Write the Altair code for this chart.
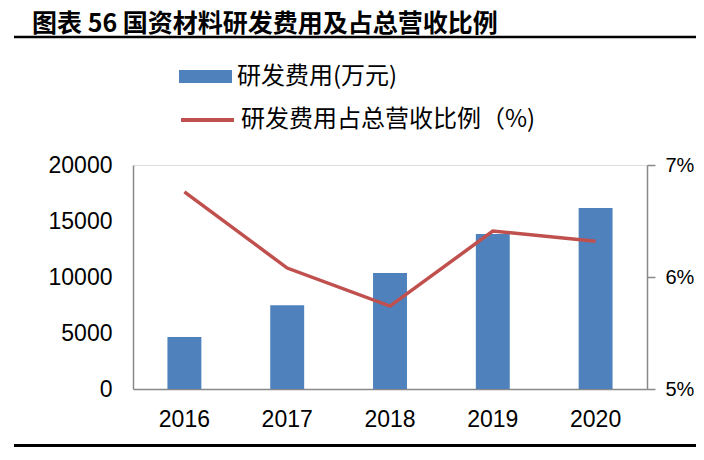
import altair as alt
import pandas as pd

# ---- data ----
years = ["2016", "2017", "2018", "2019", "2020"]
rd_expense = [4650, 7480, 10360, 13850, 16150]          # 研发费用（万元）
rd_ratio = [6.76, 6.08, 5.74, 6.41, 6.32]                # 占总营收比例（%）
left_ticks = [0, 5000, 10000, 15000, 20000]
right_ticks = [5, 6, 7]

bar_name = "研发费用(万元)"
line_name = "研发费用占总营收比例（%)"
title_text = "图表 56 国资材料研发费用及占总营收比例"

df = pd.DataFrame({
    "year": years,
    "rd": rd_expense,
    "ratio": rd_ratio,
    "bar_s": [bar_name] * len(years),
    "line_s": [line_name] * len(years),
})

BLUE = "#4F81BD"
RED = "#C0504D"
GRAY = "#898989"
NUM_FONT = "Liberation Sans"
CJK = "Noto Sans CJK SC"

x_enc = alt.X(
    "year:N", sort=years, title=None,
    scale=alt.Scale(paddingInner=0.67, paddingOuter=0.335),
    axis=alt.Axis(labelAngle=0, ticks=False, domainColor=GRAY, domainWidth=1.5,
                  labelFont=NUM_FONT, labelFontSize=23, labelColor="black",
                  labelPadding=19, grid=False),
)

bars = alt.Chart(df).mark_bar(color=BLUE).encode(
    x=x_enc,
    y=alt.Y(
        "rd:Q", title=None,
        scale=alt.Scale(domain=[0, 20000], nice=False),
        axis=alt.Axis(values=left_ticks, format="d", ticks=False, grid=False,
                      domainColor=GRAY, domainWidth=1.5,
                      labelFont=NUM_FONT, labelFontSize=23, labelColor="black",
                      labelPadding=21),
    ),
    color=alt.Color(
        "bar_s:N",
        scale=alt.Scale(domain=[bar_name], range=[BLUE]),
        legend=alt.Legend(title=None, orient="none", legendX=46, legendY=-115,
                          symbolType="M-1,-0.245H1V0.245H-1Z", symbolSize=2809,
                          symbolStrokeWidth=0, symbolOpacity=1,
                          labelFont=CJK, labelFontSize=24, labelColor="black",
                          labelOffset=5, labelLimit=600, padding=0),
    ),
)

line = alt.Chart(df).mark_line(strokeWidth=3.5).encode(
    x=alt.X("year:N", sort=years, title=None),
    y=alt.Y(
        "ratio:Q", title=None,
        scale=alt.Scale(domain=[5, 7], nice=False),
        axis=alt.Axis(orient="right", values=right_ticks,
                      labelExpr="datum.value + '%'", grid=False,
                      tickSize=8, tickColor=GRAY, tickWidth=1.5,
                      domainColor=GRAY, domainWidth=1.5,
                      labelFont=NUM_FONT, labelFontSize=20, labelColor="black",
                      labelPadding=10),
    ),
    stroke=alt.Stroke(
        "line_s:N",
        scale=alt.Scale(domain=[line_name], range=[RED]),
        legend=alt.Legend(title=None, orient="none", legendX=46, legendY=-73.5,
                          symbolType="stroke", symbolSize=2809,
                          symbolStrokeWidth=4,
                          labelFont=CJK, labelFontSize=24, labelColor="black",
                          labelOffset=5, labelLimit=600, padding=0),
    ),
)

deco = pd.DataFrame({"k": [0]})
top_rule = alt.Chart(deco).mark_rule(color="black", strokeWidth=2.5).encode(
    x=alt.value(-119), x2=alt.value(563), y=alt.value(-128))
bottom_rule = alt.Chart(deco).mark_rule(color="black", strokeWidth=3).encode(
    x=alt.value(-119), x2=alt.value(563), y=alt.value(280.5))

chart = alt.layer(bars, line, top_rule, bottom_rule).resolve_scale(
    y="independent"
).properties(
    width=514,
    height=224,
    autosize=alt.AutoSizeParams(type="none"),
    padding={"left": 125, "top": 157, "right": 49, "bottom": 58},
    title=alt.TitleParams(
        text=title_text, anchor="start", frame="group", orient="top",
        font=CJK, fontSize=25, fontWeight="bold", color="black",
        dx=-101, dy=1, offset=0,
    ),
).configure_view(stroke=None).configure(background="white")

chart.save("out.html", embed_options={"renderer": "svg", "actions": False})
